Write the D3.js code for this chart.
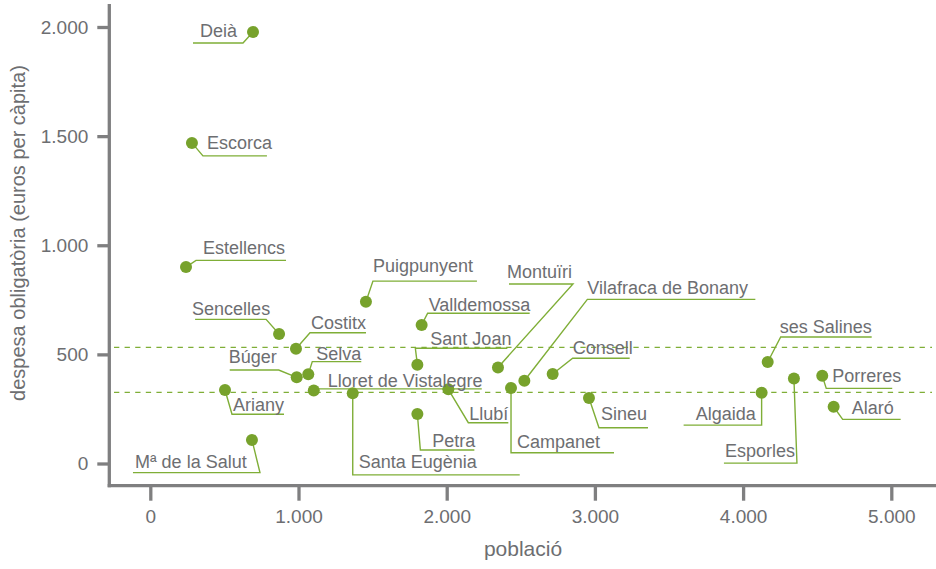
<!DOCTYPE html>
<html><head><meta charset="utf-8">
<script src="https://cdn.jsdelivr.net/npm/d3@7"></script>
<style>
body{margin:0;background:#fff}
svg{display:block}
text{font-family:"Liberation Sans",Arial,sans-serif;fill:#6d6e71}
</style>
</head><body>
<svg id="chart" width="936" height="569"></svg>
<script>
// ---- data ----
const municipalities = ["Deià","Escorca","Estellencs","Sencelles","Costitx","Búger","Selva","Puigpunyent","Valldemossa","Sant Joan","Montuïri","Vilafraca de Bonany","Consell","Campanet","Sineu","Llubí","Lloret de Vistalegre","Ariany","Mª de la Salut","Santa Eugènia","Petra","Algaida","Esporles","ses Salines","Porreres","Alaró"];
const population = [693,281,241,869,983,988,1066,1455,1831,1802,2346,2524,2715,2434,2960,2011,1103,504,686,1366,1802,4125,4343,4166,4534,4611];
const spending = [1977,1469,900,593,526,395,409,741,635,453,440,379,410,346,300,340,334,337,108,322,227,324,390,465,402,260];
const referenceLines = [532, 326];
const xTicks = [0,1000,2000,3000,4000,5000];
const yTicks = [0,500,1000,1500,2000];
const xTitle = "població";
const yTitle = "despesa obligatòria (euros per càpita)";

// ---- label layout (pixel offsets from each point) ----
// [text dx, underline dy, underline x1, underline x2, leader end, baseline offset from underline]
const labelLayout = {
  "Deià":[-53,11,-60,-10,"r",-6],
  "Escorca":[15,13,11,75,"l",-7],
  "Estellencs":[17,-6.7,10,100,"l",-6],
  "Sencelles":[-87,-14.7,-84,-13,"r",-4],
  "Costitx":[15,-16,14,70,"l",-4],
  "Búger":[-68,-7.3,-67,-18,"r",-6.7],
  "Selva":[8,-12.6,4,53,"l",-2],
  "Puigpunyent":[7,-20.7,7,111,"l",-9],
  "Valldemossa":[7,-11.7,6,108,"l",-2.5],
  "Sant Joan":[13,-16.4,-2,90,"l",-3],
  "Montuïri":[9,-83.5,11,75,"r",-6],
  "Vilafraca de Bonany":[63,-81.4,63,231,"l",-5],
  "Consell":[20,-15.7,20,77,"l",-4],
  "Campanet":[6,64.7,0,103,"l",-4.4],
  "Sineu":[12,29.7,10,59,"l",-7.7],
  "Llubí":[21,33.4,20,60,"l",-2.5],
  "Lloret de Vistalegre":[14,-1.7,4,168,"l",-1.7],
  "Ariany":[8,24.3,7,59,"l",-3.6],
  "Mª de la Salut":[-117,32.7,-119,8,"r",-4.4],
  "Santa Eugènia":[6,81.7,0,167,"l",-6.7],
  "Petra":[15,36,3,57,"l",-3.3],
  "Algaida":[-66,32.3,-78,0,"r",-5],
  "Esporles":[-69,84.7,-70,3,"r",-6.3],
  "ses Salines":[12,-25,13,104,"l",-4.3],
  "Porreres":[10,12.6,4,70,"l",-6.6],
  "Alaró":[18,12.6,9,67,"l",-5]
};

const data = municipalities.map((n,i)=>({name:n, x:population[i], y:spending[i]}));

const svg = d3.select("#chart");
const axisColor = "#7f7f80";
const green = "#77a22c";
const lineGreen = "#7fae37";

const x = d3.scaleLinear().domain([0,5000]).range([150.3, 891.3]);
const y = d3.scaleLinear().domain([0,2000]).range([463.5, 27]);
const axisX = 109.3, axisY = 485.7;

const loc = d3.formatLocale({decimal:",", thousands:".", grouping:[3], currency:["","€"]});
const fmt = loc.format(",d");

// reference lines
svg.append("g").selectAll("line").data(referenceLines).join("line")
  .attr("x1",114).attr("x2",932)
  .attr("y1",d=>y(d)).attr("y2",d=>y(d))
  .attr("stroke",lineGreen).attr("stroke-width",1.2)
  .attr("stroke-dasharray","5.3,5.3");

// axes
const gy = svg.append("g").attr("transform",`translate(${axisX},0)`)
  .call(d3.axisLeft(y).tickValues(yTicks).tickFormat(fmt).tickSize(12).tickPadding(9));
gy.select(".domain").remove();
gy.selectAll(".tick line").attr("stroke",axisColor).attr("stroke-width",3.3);
gy.selectAll(".tick text").style("font-size","19px").attr("fill","#6d6e71").attr("dy","0.34em")
  .style("font-family",'"Liberation Sans",Arial,sans-serif');

const gx = svg.append("g").attr("transform",`translate(0,${axisY})`)
  .call(d3.axisBottom(x).tickValues(xTicks).tickFormat(fmt).tickSize(15).tickPadding(0));
gx.select(".domain").remove();
gx.selectAll(".tick line").attr("stroke",axisColor).attr("stroke-width",3.3);
gx.selectAll(".tick text").style("font-size","19px").attr("fill","#6d6e71").attr("y",37.5).attr("dy",0)
  .style("font-family",'"Liberation Sans",Arial,sans-serif');

svg.append("line").attr("x1",axisX).attr("x2",axisX).attr("y1",4).attr("y2",axisY+1.6)
  .attr("stroke",axisColor).attr("stroke-width",3.3);
svg.append("line").attr("x1",axisX-1.6).attr("x2",936).attr("y1",axisY).attr("y2",axisY)
  .attr("stroke",axisColor).attr("stroke-width",3.3);

// axis titles
svg.append("text").attr("x",523).attr("y",556).attr("text-anchor","middle")
  .style("font-size","21px").text(xTitle);
svg.append("text").attr("transform","translate(25,233) rotate(-90)").attr("text-anchor","middle")
  .style("font-size","20px").text(yTitle);

// leaders + underlines
const lab = svg.append("g");
data.forEach(d=>{
  const L = labelLayout[d.name];
  const px = x(d.x), py = y(d.y);
  const uy = py + L[1];
  const near = L[4]==="l" ? px+L[2] : px+L[3];
  const far = L[4]==="l" ? px+L[3] : px+L[2];
  lab.append("path")
    .attr("d", d3.line()([[px,py],[near,uy],[far,uy]]))
    .attr("fill","none").attr("stroke",lineGreen).attr("stroke-width",1.4);
});

// points
svg.append("g").selectAll("circle").data(data).join("circle")
  .attr("cx",d=>x(d.x)).attr("cy",d=>y(d.y)).attr("r",6).attr("fill",green);

// label text
svg.append("g").selectAll("text").data(data).join("text")
  .attr("x",d=>x(d.x)+labelLayout[d.name][0])
  .attr("y",d=>y(d.y)+labelLayout[d.name][1]+labelLayout[d.name][5])
  .style("font-size","18px")
  .text(d=>d.name);
</script>
</body></html>
